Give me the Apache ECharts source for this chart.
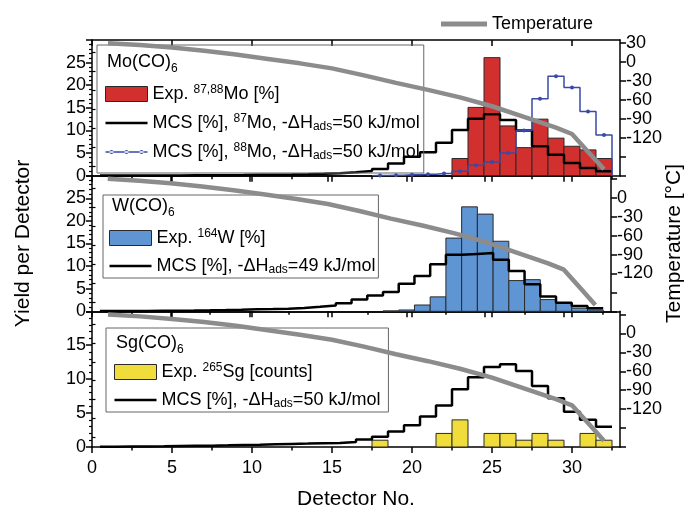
<!DOCTYPE html>
<html><head><meta charset="utf-8">
<script src="https://cdn.jsdelivr.net/npm/echarts@6/dist/echarts.min.js"></script>
<style>html,body{margin:0;padding:0;background:#fff}#c{width:693px;height:511px}</style>
</head><body><div id="c"></div>
<script>
// ---------- data ----------
const detectors = [1,2,3,4,5,6,7,8,9,10,11,12,13,14,15,16,17,18,19,20,21,22,23,24,25,26,27,28,29,30,31,32];
// Mo(CO)6 panel
const moExp    = [0,0,0,0,0,0,0,0,0,0,0,0,0,0,0,0,0,0,0,0,0,0,3.8,15.1,26.1,11.0,6.2,12.5,8.3,6.5,5.7,3.8];
const mo87Mcs  = [0.02,0.03,0.04,0.05,0.06,0.08,0.1,0.12,0.15,0.19,0.23,0.28,0.34,0.42,0.55,0.75,1.05,1.5,2.7,4.2,5.2,7.3,10.1,12.6,13.6,12.3,10.0,6.5,4.6,2.8,1.7,1.0];
const mo88Mcs  = [0,0,0,0,0,0,0,0,0,0,0,0,0,0,0,0,0,0.05,0.1,0.2,0.3,0.5,1.0,2.3,3.0,5.0,10.0,17.0,22.0,19.5,14.2,9.0];
// W(CO)6 panel
const wExp     = [0,0,0,0,0,0,0,0,0,0,0,0,0,0,0,0,0,0,0.1,0.3,1.4,3.2,16.2,23.1,21.5,15.5,6.8,7.0,2.6,1.9,0.7,0.3];
const wMcs     = [0.05,0.07,0.09,0.12,0.15,0.19,0.24,0.3,0.37,0.45,0.52,0.6,0.75,1.0,1.3,1.8,2.6,3.5,4.3,6.1,7.8,10.4,12.5,12.7,12.9,11.4,8.9,6.0,3.3,1.9,1.2,0.7];
// Sg(CO)6 panel
const sgExp    = [0,0,0,0,0,0,0,0,0,0,0,0,0,0,0,0,0,1,0,0,0,2,4,0,2,2,1,2,1,0,2,1];
const sgMcs    = [0.05,0.07,0.09,0.11,0.14,0.17,0.2,0.24,0.29,0.34,0.4,0.46,0.5,0.55,0.6,0.75,1.1,1.5,2.3,3.2,4.5,6.1,8.5,10.3,11.8,12.2,11.2,9.0,7.2,5.2,4.0,3.0];
// temperature profile (°C)
const tempPos  = [1,3,5,7,9,11,13,15,17,19,21,23,25,27,29,30,31,32];
const tempVal  = [30,27,23,18,12,5,-2,-10,-21,-33,-44,-56,-70,-87,-104,-114,-142,-170];
// axis ticks
const xMajor = [0,5,10,15,20,25,30];
const xMinor = [2.5,7.5,12.5,17.5,22.5,27.5,32.5];
const yMax   = [30,30,20];
const tMajor = [-180,-150,-120,-90,-60,-30,0,30];
const tMinor = [-165,-135,-105,-75,-45,-15,15];
const tLabelsTop = [-120,-90,-60,-30,0,30];
const tLabelsOther = [-120,-90,-60,-30,0];

// ---------- helpers ----------
const FONT = '"Liberation Sans", Arial, Helvetica, sans-serif';
const GRID_TOP = [40, 175.67, 311.33], GRID_H = 135.67;
function stepPts(xs, ys){ const o=[]; xs.forEach((d,i)=>{o.push([d-0.5,ys[i]]);o.push([d+0.5,ys[i]]);}); return o; }
function stepPtsDots(xs, ys){ const o=[]; let started=false;
  xs.forEach((d,i)=>{ if(!started && ys[i]>0){started=true;o.push([d-0.5,0]);} if(started){o.push([d-0.5,ys[i]]);o.push([d,ys[i]]);o.push([d+0.5,ys[i]]);} });
  o.push([xs[xs.length-1]+0.5,0]); return o; }
function pairs(xs, ys){ return xs.map((d,i)=>[d,ys[i]]); }
function range(a,b,s){const r=[];for(let v=a;v<=b+1e-9;v+=s)r.push(v);return r;}

const grids=[], xAxes=[], yAxes=[], series=[];
for(let g=0; g<3; g++){
  grids.push({left:92, width:528, top:GRID_TOP[g], height:GRID_H});
  const base = {gridIndex:g, type:'value', min:0, max:33, splitLine:{show:false}, axisLine:{onZero:false, lineStyle:{color:'#000', width:1.5}}};
  xAxes.push(Object.assign({}, base, {position:'bottom', interval:5,
    axisTick:{customValues:xMajor, inside:false, length:6, lineStyle:{color:'#000',width:1.5}},
    axisLabel:{show:g===2, customValues:xMajor, fontSize:18, color:'#000', fontFamily:FONT, margin:12},
    name: g===2?'Detector No.':'', nameLocation:'middle', nameGap:42, nameTextStyle:{fontSize:21, color:'#000', fontFamily:FONT}}));
  xAxes.push(Object.assign({}, base, {position:'bottom', interval:2.5, axisLine:{show:false},
    axisTick:{customValues:xMinor, inside:false, length:3.5, lineStyle:{color:'#000',width:1.5}}, axisLabel:{show:false}}));
  xAxes.push(Object.assign({}, base, {position:'top', interval:5,
    axisTick:{customValues:xMajor, inside:true, length:6, lineStyle:{color:'#000',width:1.5}}, axisLabel:{show:false}}));
  xAxes.push(Object.assign({}, base, {position:'top', interval:2.5, axisLine:{show:false},
    axisTick:{customValues:xMinor, inside:true, length:3.5, lineStyle:{color:'#000',width:1.5}}, axisLabel:{show:false}}));

  const yl = {gridIndex:g, type:'value', min:0, max:yMax[g], splitLine:{show:false}, axisLine:{onZero:false, lineStyle:{color:'#000', width:1.5}}};
  const lm = range(0, yMax[g], 5), lminor = range(1, yMax[g]-1, 1).filter(v=>v%5!==0);
  yAxes.push(Object.assign({}, yl, {position:'left', interval:5,
    axisTick:{customValues:lm, inside:false, length:6, lineStyle:{color:'#000',width:1.5}},
    axisLabel:{customValues:lm.slice(0,-1), fontSize:18, color:'#000', fontFamily:FONT, margin:6},
    name: g===1?'Yield per Detector':'', nameLocation:'middle', nameGap:58, nameTextStyle:{fontSize:21,color:'#000',fontFamily:FONT}}));
  yAxes.push(Object.assign({}, yl, {position:'left', interval:1, axisLine:{show:false},
    axisTick:{customValues:lminor, inside:false, length:3, lineStyle:{color:'#000',width:1.2}}, axisLabel:{show:false}}));
  const yr = {gridIndex:g, type:'value', min:-180, max:35, splitLine:{show:false}, axisLine:{onZero:false, lineStyle:{color:'#000', width:1.5}}};
  yAxes.push(Object.assign({}, yr, {position:'right', interval:30,
    axisTick:{customValues:tMajor, inside:false, length:6, lineStyle:{color:'#000',width:1.5}},
    axisLabel:{customValues: g===0?tLabelsTop:tLabelsOther, fontSize:18, color:'#000', fontFamily:FONT, margin:6},
    name: g===1?'Temperature [°C]':'', nameLocation:'middle', nameGap:42, nameRotate:90, nameTextStyle:{fontSize:21,color:'#000',fontFamily:FONT}}));
  yAxes.push(Object.assign({}, yr, {position:'right', interval:15, axisLine:{show:false},
    axisTick:{customValues:tMinor, inside:false, length:3.5, lineStyle:{color:'#000',width:1.2}}, axisLabel:{show:false}}));
}

function barSeries(name, g, ys, color){
  return {name, type:'custom', xAxisIndex:4*g, yAxisIndex:4*g, z:1,
    itemStyle:{color, borderColor:'#2a2a2a', borderWidth:1},
    encode:{x:0, y:1},
    data: pairs(detectors, ys),
    renderItem: function(params, api){
      const d = api.value(0), v = api.value(1);
      if(!v) return null;
      const p0 = api.coord([d-0.5, v]), p1 = api.coord([d+0.5, 0]);
      return {type:'rect', shape:{x:p0[0], y:p0[1], width:p1[0]-p0[0], height:p1[1]-p0[1]},
        style:{fill:color, stroke:'#2a2a2a', lineWidth:1}};
    }};
}
function stepSeries(name, g, ys, color, width){
  return {name, type:'line', xAxisIndex:4*g, yAxisIndex:4*g, z:3, symbol:'none',
    lineStyle:{color, width}, itemStyle:{color}, data: stepPts(detectors, ys), animation:false};
}
function tempSeries(g){
  return {name:'Temperature', type:'line', xAxisIndex:4*g, yAxisIndex:4*g+2, z:5, symbol:'none',
    lineStyle:{color:'#8c8c8c', width:4.5}, itemStyle:{color:'#8c8c8c'}, data: pairs(tempPos, tempVal), animation:false};
}

series.push(barSeries('Exp. Mo', 0, moExp, '#d1302e'));
series.push(stepSeries('MCS 87Mo', 0, mo87Mcs, '#000', 2.5));
series.push({name:'MCS 88Mo', type:'line', xAxisIndex:0, yAxisIndex:0, z:4, symbol:'circle', showAllSymbol:true,
  symbolSize:function(v, p){ return (p.dataIndex>0 && (p.dataIndex-1)%3===1) ? 4 : 0; },
  lineStyle:{color:'#3a4aa6', width:1.5}, itemStyle:{color:'#3a4aa6'}, data: stepPtsDots(detectors, mo88Mcs), animation:false});
series.push(tempSeries(0));
series.push(barSeries('Exp. W', 1, wExp, '#5f95d3'));
series.push(stepSeries('MCS W', 1, wMcs, '#000', 2.5));
series.push(tempSeries(1));
series.push(barSeries('Exp. Sg', 2, sgExp, '#f0dc3a'));
series.push(stepSeries('MCS Sg', 2, sgMcs, '#000', 2.5));
series.push(tempSeries(2));

const LABELS = {
  'Exp. Mo':'Exp. {sup|87,88}Mo [%]',
  'MCS 87Mo':'MCS [%], {sup|87}Mo, -ΔH{sub|ads}=50 kJ/mol',
  'MCS 88Mo':'MCS [%], {sup|88}Mo, -ΔH{sub|ads}=50 kJ/mol',
  'Exp. W':'Exp. {sup|164}W [%]',
  'MCS W':'MCS [%], -ΔH{sub|ads}=49 kJ/mol',
  'Exp. Sg':'Exp. {sup|265}Sg [counts]',
  'MCS Sg':'MCS [%], -ΔH{sub|ads}=50 kJ/mol',
  'Temperature':'Temperature'
};
const legendText = {fontSize:18, lineHeight:20, color:'#000', fontFamily:FONT,
  rich:{sup:{fontSize:12, lineHeight:12, verticalAlign:'top', padding:[0,0,11,0], fontFamily:FONT, color:'#000'},
        sub:{fontSize:12, lineHeight:12, verticalAlign:'bottom', padding:[13,0,0,0], fontFamily:FONT, color:'#000'}}};
const LINE_ICON = 'path://M0,0L42,0L42,2.5L0,2.5Z';
const DOT_ICON = 'path://M0,3.25L42,3.25L42,4.75L0,4.75Z M4,4a2,2 0 1,0 4,0a2,2 0 1,0 -4,0Z M19,4a2,2 0 1,0 4,0a2,2 0 1,0 -4,0Z M34,4a2,2 0 1,0 4,0a2,2 0 1,0 -4,0Z M0,0L0.01,0L0.01,8L0,8Z';
function legendBox(id, left, top, pad, gap, items){
  return {id, orient:'vertical', left, top, padding:pad, itemGap:gap, itemWidth:42, itemHeight:15,
    borderColor:'#666', borderWidth:1, selectedMode:false, symbolKeepAspect:true,
    textStyle:legendText, formatter:(n)=>LABELS[n], data:items};
}
const barItem = (name, color)=>({name, icon:'rect', itemStyle:{color, borderColor:'#2a2a2a', borderWidth:1}});
const lineItem = (name)=>({name, icon:LINE_ICON, itemStyle:{color:'#000', borderWidth:0}});
const titleStyle = {fontSize:18, fontWeight:'normal', lineHeight:26, color:'#000', fontFamily:FONT,
  rich:{s:{fontSize:12, lineHeight:12, verticalAlign:'bottom', padding:[12,0,0,0], fontFamily:FONT, color:'#000'}}};

const option = {
  backgroundColor:'#fff', animation:false,
  grid: grids, xAxis: xAxes, yAxis: yAxes, series,
  title: [
    {text:'Mo(CO){s|6}', left:102, top:44, textStyle:titleStyle},
    {text:'W(CO){s|6}', left:107, top:188, textStyle:titleStyle},
    {text:'Sg(CO){s|6}', left:111, top:325, textStyle:titleStyle}
  ],
  legend: [
    {id:'temp', left:436, top:10, itemWidth:46, itemHeight:5, selectedMode:false, symbolKeepAspect:true,
     textStyle:{fontSize:18, color:'#000', fontFamily:FONT},
     data:[{name:'Temperature', icon:'path://M0,0L46,0L46,5L0,5Z', itemStyle:{color:'#8c8c8c'}}]},
    legendBox('lg0', 97, 45, [39,4,8,8], 1, [barItem('Exp. Mo','#d1302e'), lineItem('MCS 87Mo'),
      {name:'MCS 88Mo', icon:DOT_ICON, itemStyle:{color:'#3a4aa6', borderWidth:0}}]),
    legendBox('lg1', 103, 195, [33,3,2,6], 0, [barItem('Exp. W','#5f95d3'), lineItem('MCS W')]),
    legendBox('lg2', 106, 328, [34,8,2,8], 0, [barItem('Exp. Sg','#f0dc3a'), lineItem('MCS Sg')])
  ]
};
const chart = echarts.init(document.getElementById('c'), null, {renderer:'canvas'});
chart.setOption(option);
</script></body></html>
